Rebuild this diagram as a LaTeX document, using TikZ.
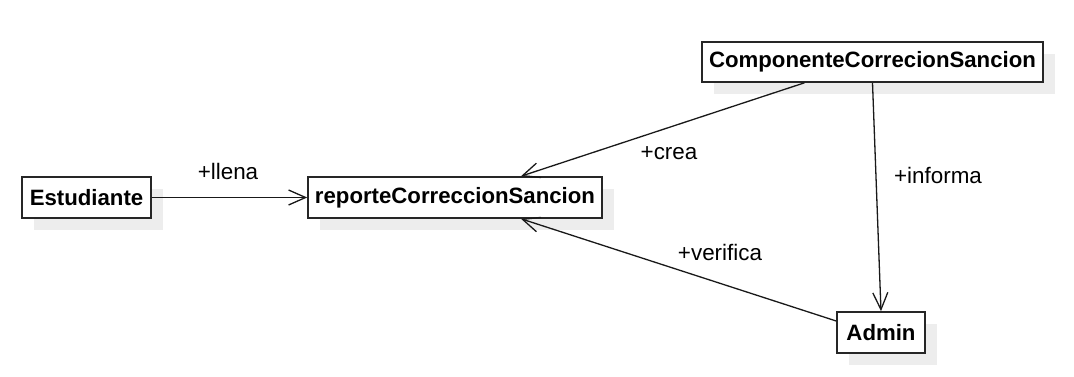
\documentclass[tikz,border=0pt]{standalone}
\usepackage{fontspec}
\setmainfont{Liberation Sans}
\usetikzlibrary{arrows.meta,shadows}
\begin{document}
\begin{tikzpicture}[x=1pt,y=-1pt,
  classbox/.style={draw=black!85,line width=1.6pt,fill=white,inner sep=0pt,
    font=\fontsize{22.2}{26}\selectfont\bfseries,
    drop shadow={shadow xshift=12pt,shadow yshift=-12pt,fill=black!7,opacity=1}},
  assoc/.style={line width=1.3pt,draw=black!90,
    -{Straight Barb[length=17pt,width=15pt,line width=1.3pt]}},
  lbl/.style={font=\fontsize{22.4}{26}\selectfont,inner sep=0pt}]
\useasboundingbox (0,0) rectangle (1074,377);

% classes
\node[classbox,minimum width=129pt,minimum height=41pt] (est) at (86.5,197.5) {Estudiante};
\node[classbox,minimum width=294pt,minimum height=41pt] (rep) at (455,197.5) {reporteCorreccionSancion};
\node[classbox,minimum width=341pt,minimum height=40pt] (comp) at (872.5,62) {ComponenteCorrecionSancion};
\node[classbox,minimum width=88pt,minimum height=41pt] (adm) at (881,332.5) {Admin};

% associations
\draw[assoc] (est.east) -- (rep.west);
\draw[assoc] ([xshift=-68pt]comp.south) -- ([xshift=66pt]rep.north);
\draw[assoc] (comp.south) -- (adm.north);
\draw[assoc] ([yshift=11.5pt]adm.west) -- ([xshift=66pt]rep.south);

% role labels
\node[lbl] (lllena) at (228,171) {+llena};
\node[lbl] (lcrea) at (669,153) {+crea};
\node[lbl] (linforma) at (938,175) {+informa};
\node[lbl] (lverifica) at (720,252) {+verifica};
\end{tikzpicture}
\end{document}
